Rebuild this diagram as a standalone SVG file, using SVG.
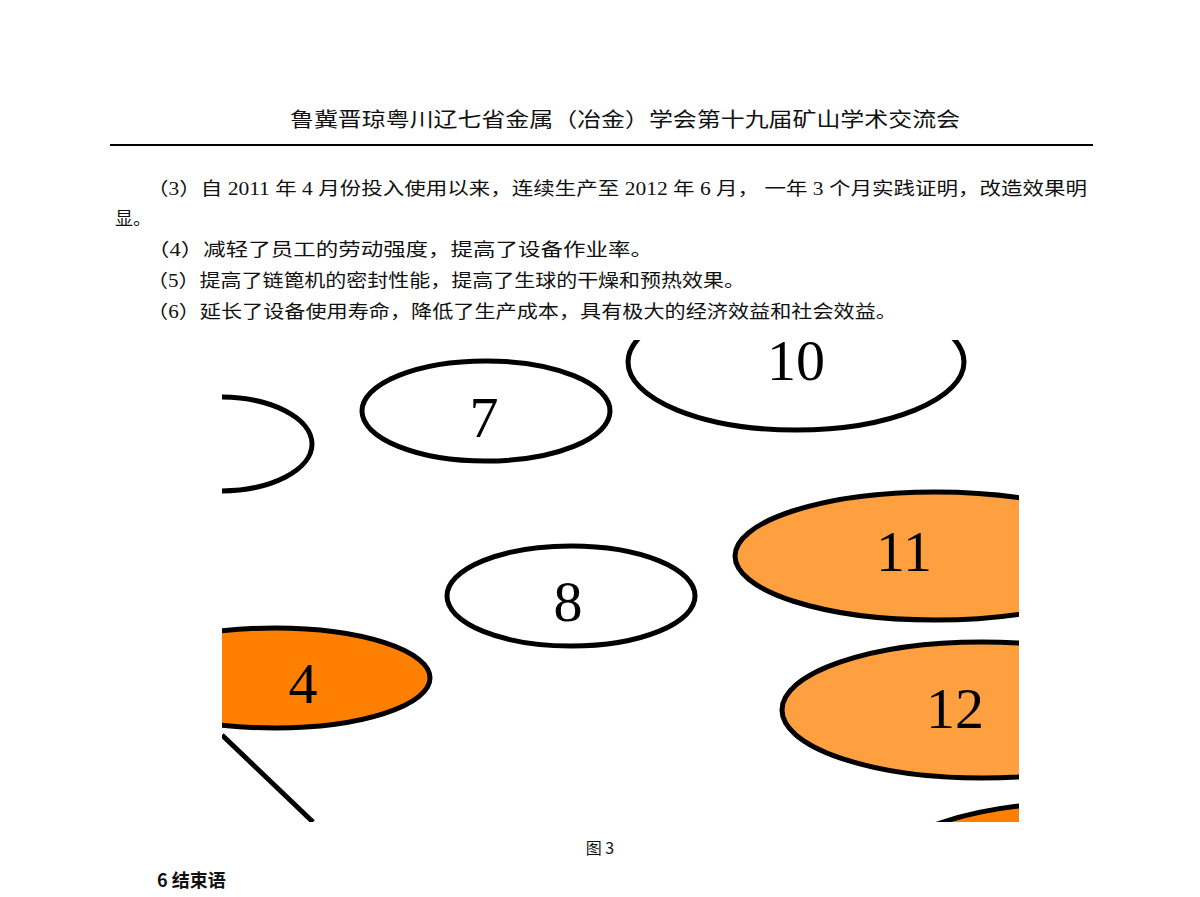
<svg xmlns="http://www.w3.org/2000/svg" width="1200" height="897" viewBox="0 0 1200 897">
<style>
.t{font-family:"Liberation Serif","Noto Sans CJK SC",serif;font-size:18px;fill:#111}
.n{font-family:"Liberation Serif",serif;font-size:58px;fill:#000;text-anchor:middle}
.e{stroke:#000;stroke-width:5}
</style>
<defs><clipPath id="c"><rect x="222" y="340" width="797" height="482"/></clipPath></defs>
<rect width="1200" height="897" fill="#fff"/>
<text x="290" y="127" textLength="670" lengthAdjust="spacingAndGlyphs" style="font-family:'Noto Sans CJK SC',sans-serif;font-size:20px" fill="#111">鲁冀晋琼粤川辽七省金属（冶金）学会第十九届矿山学术交流会</text>
<line x1="110" y1="145" x2="1093" y2="145" stroke="#000" stroke-width="2"/>
<text class="t" x="147" y="195" textLength="940" lengthAdjust="spacingAndGlyphs">（3）自 2011 年 4 月份投入使用以来，连续生产至 2012 年 6 月， 一年 3 个月实践证明，改造效果明</text>
<text class="t" x="115" y="225">显。</text>
<text class="t" x="147" y="256" textLength="506" lengthAdjust="spacingAndGlyphs">（4）减轻了员工的劳动强度，提高了设备作业率。</text>
<text class="t" x="147" y="287" textLength="598" lengthAdjust="spacingAndGlyphs">（5）提高了链篦机的密封性能，提高了生球的干燥和预热效果。</text>
<text class="t" x="147" y="318" textLength="750" lengthAdjust="spacingAndGlyphs">（6）延长了设备使用寿命，降低了生产成本，具有极大的经济效益和社会效益。</text>
<g clip-path="url(#c)">
<g id="conn"><line x1="222" y1="735" x2="313" y2="822" stroke="#000" stroke-width="5"/></g>
<g id="n3"><ellipse class="e" cx="220" cy="444" rx="92" ry="47" fill="#fff"/></g>
<g id="n7"><ellipse class="e" cx="486" cy="411" rx="124" ry="50" fill="#fff"/><text class="n" x="484" y="437">7</text></g>
<g id="n10"><ellipse class="e" cx="796" cy="362" rx="168" ry="68" fill="#fff"/><text class="n" x="796" y="380">10</text></g>
<g id="n11"><ellipse class="e" cx="935" cy="556" rx="200" ry="64" fill="#FFA040"/><text class="n" x="904" y="571">11</text></g>
<g id="n8"><ellipse class="e" cx="571" cy="596" rx="124" ry="50" fill="#fff"/><text class="n" x="568" y="621">8</text></g>
<g id="n4"><ellipse class="e" cx="275" cy="678" rx="155" ry="50" fill="#FF8000"/><text class="n" x="303" y="703">4</text></g>
<g id="n12"><ellipse class="e" cx="982" cy="710" rx="200" ry="68" fill="#FFA040"/><text class="n" x="955" y="728">12</text></g>
<g id="n13"><ellipse class="e" cx="1090" cy="872" rx="210" ry="70" fill="#FF8000"/></g>
</g>
<text x="600" y="854" text-anchor="middle" style="font-family:'Noto Sans CJK SC',sans-serif;font-size:16px" fill="#111">图 3</text>
<text x="157" y="887" style="font-family:'Noto Sans CJK SC',sans-serif;font-size:18px;font-weight:bold" fill="#111">6 结束语</text>
</svg>
